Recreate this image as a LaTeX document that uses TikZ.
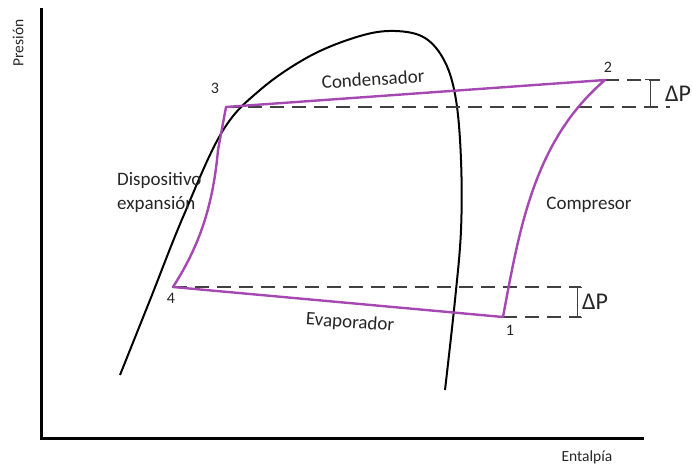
\documentclass[tikz,border=0pt]{standalone}
\usepackage{fontspec}
\setmainfont{Carlito}
\definecolor{cyc}{HTML}{A548B2}
\definecolor{txt}{HTML}{262626}
\tikzset{
  axisline/.style={line width=3pt, black},
  domeline/.style={line width=2pt, black},
  cycline/.style={line width=2.4pt, cyc, line join=round},
  dashline/.style={line width=1.3pt, black!75, dash pattern=on 14pt off 8pt},
  bracketline/.style={line width=1pt, black!75},
  lbl/.style={text=txt, font=\fontsize{19}{24}\selectfont, inner sep=0pt},
  numlbl/.style={text=txt, font=\fontsize{16}{18}\selectfont, inner sep=0pt},
  axlbl/.style={text=txt, font=\fontsize{15.5}{18}\selectfont, inner sep=0pt},
  dplbl/.style={text=txt, font=\fontsize{24}{26}\selectfont, inner sep=0pt, anchor=west}
}
\begin{document}
\begin{tikzpicture}[x=1pt,y=-1pt]
\useasboundingbox (0,0) rectangle (692,465);
% axes
\coordinate (ytop) at (41,8);
\coordinate (org) at (41,438);
\coordinate (xend) at (644,438);
\draw[axisline] (ytop) -- (org) -- (xend);
\node[axlbl, rotate=90] (ylab) at (18,43) {Presión};
\node[axlbl] (xlab) at (587,457) {Entalpía};
% dome
\draw[domeline] plot[smooth, tension=0.6] coordinates {(120,375) (150,300) (183,217) (222,132) (260,90) (310,56) (360,36) (395,31) (425,38) (445,62) (456,100) (461,160) (461,230) (455,300) (445,390)};
% cycle points
\coordinate (p1) at (503,317);
\coordinate (p2) at (605,80);
\coordinate (p3) at (226,107);
\coordinate (p4) at (173,287);
\coordinate (p3b) at (218,150);
% dashed lines
\coordinate (d3) at (670,107);
\coordinate (d2) at (660,80);
\coordinate (d4) at (581,287);
\coordinate (d1) at (581,317);
\draw[dashline] (p3) -- (d3);
\draw[dashline] (p2) -- (d2);
\draw[dashline] (p4) -- (d4);
\draw[dashline] (p1) -- (d1);
% brackets
\coordinate (bt1) at (650,80);
\coordinate (bt2) at (650,107);
\coordinate (bb1) at (577,287);
\coordinate (bb2) at (577,317);
\draw[bracketline] (bt1) -- (bt2);
\draw[bracketline] ([xshift=-5pt]bt1) -- ([xshift=5pt]bt1);
\draw[bracketline] ([xshift=-5pt]bt2) -- ([xshift=5pt]bt2);
\draw[bracketline] (bb1) -- (bb2);
\draw[bracketline] ([xshift=-5pt]bb1) -- ([xshift=5pt]bb1);
\draw[bracketline] ([xshift=-5pt]bb2) -- ([xshift=5pt]bb2);
\node[dplbl] (dpt) at (665,94) {ΔP};
\node[dplbl] (dpb) at (582,302) {ΔP};
% cycle
\draw[cycline] (p1) .. controls (520,225) and (535,140) .. (p2) -- (p3) -- (p3b) .. controls (213,205) and (200,245) .. (p4) -- cycle;
% labels
\node[numlbl] (n1) at (510,330) {1};
\node[numlbl] (n2) at (608,67) {2};
\node[numlbl] (n3) at (215,88) {3};
\node[numlbl] (n4) at (171,298) {4};
\node[lbl, rotate=3.5] (cond) at (373,79) {Condensador};
\node[lbl, rotate=-4] (evap) at (350,323) {Evaporador};
\node[lbl] (comp) at (589,205) {Compresor};
\node[lbl, align=left, anchor=west] (disp) at (117,192) {Dispositivo\\expansión};
\end{tikzpicture}
\end{document}
